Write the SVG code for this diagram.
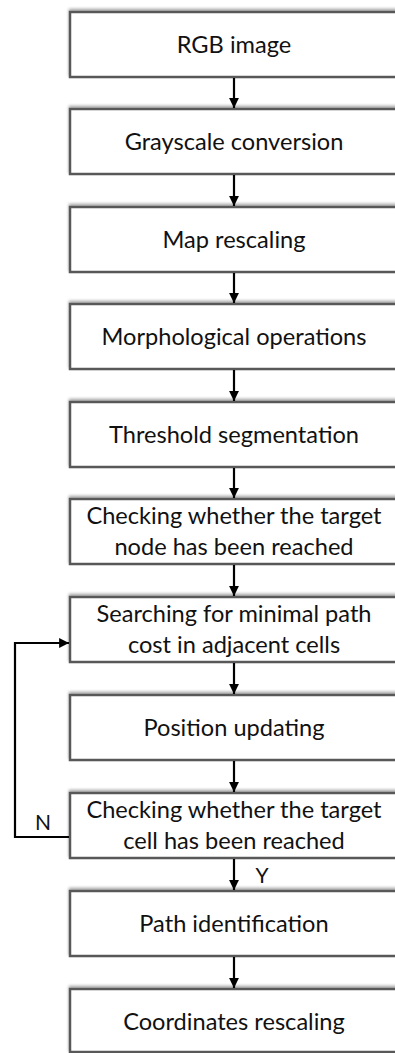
<svg xmlns="http://www.w3.org/2000/svg" width="395" height="1053" viewBox="0 0 395 1053">
<style>
.box{fill:#fff;stroke:#595959;stroke-width:2.5;filter:url(#sh)}
.t{font-family:Lato,"Liberation Sans",sans-serif;font-size:23.6px;fill:#111;text-anchor:middle}
.c{fill:none;stroke:#000;stroke-width:2.2;marker-end:url(#ah)}
.l{font-family:Lato,"Liberation Sans",sans-serif;font-size:21px;fill:#111;text-anchor:middle}
</style>
<defs>
<filter id="sh" x="-10%" y="-30%" width="120%" height="160%">
<feGaussianBlur in="SourceAlpha" stdDeviation="1.5"/>
<feOffset dx="0" dy="-2" result="b"/>
<feComponentTransfer><feFuncA type="linear" slope="0.35"/></feComponentTransfer>
<feMerge><feMergeNode/><feMergeNode in="SourceGraphic"/></feMerge>
</filter>
<marker id="ah" viewBox="0 0 10 10" refX="10" refY="5" markerWidth="4.5" markerHeight="4.5" orient="auto" markerUnits="strokeWidth">
<path d="M0,0 L10,5 L0,10 z" fill="#000"/>
</marker>
</defs>
<g id="n1"><rect class="box" x="70" y="12" width="330" height="65"/><text class="t" x="234" y="53">RGB image</text></g>
<g id="n2"><rect class="box" x="70" y="109" width="330" height="65"/><text class="t" x="234" y="150">Grayscale conversion</text></g>
<g id="n3"><rect class="box" x="70" y="207" width="330" height="65"/><text class="t" x="234" y="248">Map rescaling</text></g>
<g id="n4"><rect class="box" x="70" y="304" width="330" height="65"/><text class="t" x="234" y="345">Morphological operations</text></g>
<g id="n5"><rect class="box" x="70" y="402" width="330" height="65"/><text class="t" x="234" y="443">Threshold segmentation</text></g>
<g id="n6"><rect class="box" x="70" y="499" width="330" height="65"/><text class="t" x="234" y="524">Checking whether the target</text><text class="t" x="234" y="555">node has been reached</text></g>
<g id="n7"><rect class="box" x="70" y="597" width="330" height="65"/><text class="t" x="234" y="622">Searching for minimal path</text><text class="t" x="234" y="653">cost in adjacent cells</text></g>
<g id="n8"><rect class="box" x="70" y="695" width="330" height="65"/><text class="t" x="234" y="736">Position updating</text></g>
<g id="n9"><rect class="box" x="70" y="793" width="330" height="65"/><text class="t" x="234" y="818">Checking whether the target</text><text class="t" x="234" y="849">cell has been reached</text></g>
<g id="n10"><rect class="box" x="70" y="891" width="330" height="65"/><text class="t" x="234" y="932">Path identification</text></g>
<g id="n11"><rect class="box" x="70" y="989" width="330" height="63"/><text class="t" x="234" y="1030">Coordinates rescaling</text></g>
<g id="connectors">
<line class="c" x1="234" y1="78" x2="234" y2="108"/>
<line class="c" x1="234" y1="175" x2="234" y2="206"/>
<line class="c" x1="234" y1="273" x2="234" y2="303"/>
<line class="c" x1="234" y1="370" x2="234" y2="401"/>
<line class="c" x1="234" y1="468" x2="234" y2="498"/>
<line class="c" x1="234" y1="565" x2="234" y2="596"/>
<line class="c" x1="234" y1="663" x2="234" y2="694"/>
<line class="c" x1="234" y1="761" x2="234" y2="792"/>
<line class="c" x1="234" y1="859" x2="234" y2="890"/>
<line class="c" x1="234" y1="957" x2="234" y2="988"/>
<polyline class="c" points="69,837 15,837 15,643 69,643"/>
<text class="l" x="43" y="830">N</text>
<text class="l" x="262" y="883">Y</text>
</g>
</svg>
